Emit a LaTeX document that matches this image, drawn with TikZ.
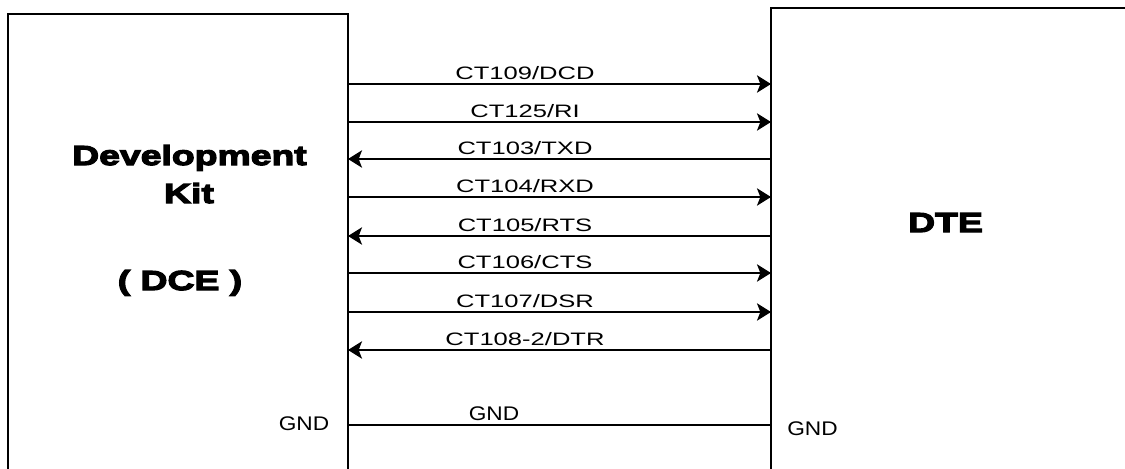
\documentclass[tikz,border=0pt]{standalone}
\usepackage{fontspec}
\setmainfont{Liberation Sans}
\newfontfamily\sigfont[FakeStretch=1.42]{Liberation Sans}
\newfontfamily\gndfont[FakeStretch=1.15]{Liberation Sans}
\newfontfamily\heavyfont[FakeBold=4.5,FakeStretch=1.36]{Liberation Sans Bold}
\usepackage{tikz}
\usetikzlibrary{positioning,calc,arrows.meta}

\begin{document}
\begin{tikzpicture}[
    x=0.75pt, y=-0.75pt,
    >={Stealth[length=10.5pt,width=13pt,inset=2.5pt]},
    box/.style={
        draw,
        line width=2.2pt,
        inner sep=0pt,
        outer sep=0pt
    },
    sig/.style={line width=1.3pt},
    siglabel/.style={font=\sigfont\fontsize{13.5}{16}\selectfont, anchor=base, inner sep=0pt},
    gndlabel/.style={font=\gndfont\fontsize{14.8}{17}\selectfont, anchor=base, inner sep=0pt},
    title/.style={font=\heavyfont\fontsize{20.6}{24}\selectfont, anchor=base, inner sep=0pt}
]
\useasboundingbox (0,0) rectangle (1125,468);
\clip (0,0) rectangle (1125,468);

% the two units, open at the bottom (and on the right for the DTE)
\node[box, minimum width=255pt, minimum height=379.5pt] (dce) at (178,267) {};
\node[box, minimum width=321.75pt, minimum height=384pt] (dte) at (985.5,264) {};

\node[title] (devkit) at (189.5,165) {Development};
\node[title] (kit) at (189,203) {Kit};
\node[title] (dcename) at (180,290) {( DCE )};
\node[title] (dtename) at (945.5,232) {DTE};

% V.24 circuits
\foreach \y/\lab/\from/\to in {
    84/{CT109/DCD}/dce.east/dte.west,
    122/{CT125/RI}/dce.east/dte.west,
    159/{CT103/TXD}/dte.west/dce.east,
    197/{CT104/RXD}/dce.east/dte.west,
    236/{CT105/RTS}/dte.west/dce.east,
    273/{CT106/CTS}/dce.east/dte.west,
    312/{CT107/DSR}/dce.east/dte.west,
    350/{CT108-2/DTR}/dte.west/dce.east}
{
    \draw[sig,->] (\from |- 0,\y) -- (\to |- 0,\y);
    \node[siglabel] at (525,\y-5) {\lab};
}

\draw[sig] (dce.east |- 0,425) -- (dte.west |- 0,425);
\node[gndlabel] (gndmid) at (494,420.5) {GND};
\node[gndlabel] (gndleft) at (304,430) {GND};
\node[gndlabel] (gndright) at (812.5,435) {GND};
\end{tikzpicture}
\end{document}
